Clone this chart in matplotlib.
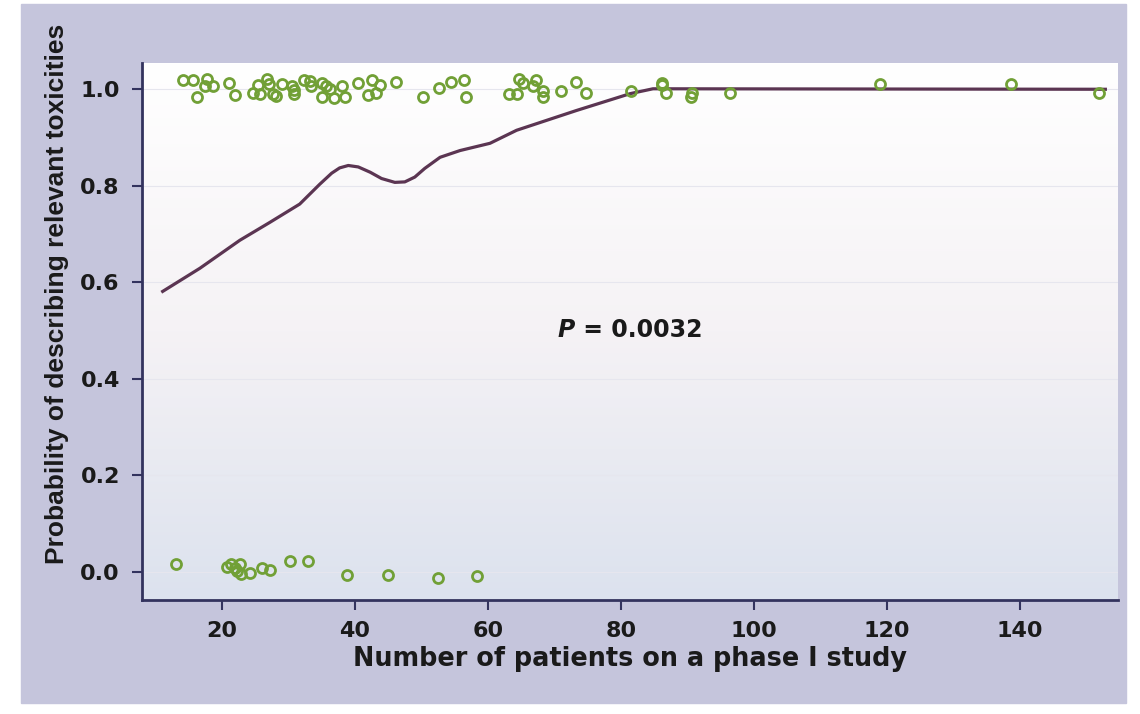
import numpy as np
import matplotlib
matplotlib.use("Agg")
import matplotlib.pyplot as plt
from matplotlib.colors import LinearSegmentedColormap
from matplotlib.patches import Rectangle

plt.rcParams['font.family'] = ['DejaVu Sans']

# studies that described relevant toxicities (jittered around 1)
yes_n = [14.2, 15.6, 16.2, 17.4, 17.8, 18.6, 21.1, 21.9, 24.7, 25.4,
         25.8, 26.8, 27.1, 27.7, 28.2, 29.1, 30.5, 30.8, 30.9, 32.3,
         33.2, 33.4, 35.0, 35.6, 36.2, 35.0, 36.8, 38.1, 38.5, 40.5,
         42.6, 43.7, 42.0, 43.2, 46.2, 50.2, 52.7, 54.5, 56.4, 56.7,
         63.2, 64.3, 64.7, 65.3, 66.8, 67.2, 68.3, 68.2, 71.0, 73.2,
         74.8, 81.5, 86.1, 86.2, 86.7, 90.6, 90.5, 96.4, 119.0, 138.6,
         151.9]
yes_p = [1.019, 1.019, 0.985, 1.007, 1.022, 1.006, 1.014, 0.989, 0.992, 1.008,
         0.990, 1.022, 1.011, 0.991, 0.986, 1.011, 1.007, 0.998, 0.990, 1.020,
         1.017, 1.006, 1.014, 1.006, 1.000, 0.984, 0.981, 1.006, 0.984, 1.013,
         1.020, 1.008, 0.988, 0.992, 1.016, 0.985, 1.002, 1.016, 1.020, 0.985,
         0.990, 0.990, 1.022, 1.012, 1.007, 1.020, 0.996, 0.984, 0.997, 1.016,
         0.993, 0.997, 1.013, 1.009, 0.992, 0.992, 0.983, 0.993, 1.010, 1.010,
         0.993]

# studies that did not (jittered around 0)
no_n = [13.1, 20.7, 21.3, 22.0, 22.7, 22.3, 22.9, 24.3, 26.1, 27.3,
        30.3, 32.9, 38.8, 44.9, 52.5, 58.3]
no_p = [0.016, 0.009, 0.016, 0.007, 0.017, 0.002, -0.005, -0.003, 0.007, 0.004,
        0.022, 0.022, -0.007, -0.007, -0.014, -0.009]

# lowess fit
fit_n = [11.1, 16.7, 22.7, 27.2, 31.7, 34.7, 36.5, 37.7, 39.0, 40.5,
         42.3, 44.0, 46.0, 47.5, 49.0, 50.5, 52.8, 55.8, 60.3, 64.3,
         73.3, 81.4, 84.8, 85.9, 152.8]
fit_p = [0.581, 0.629, 0.687, 0.724, 0.762, 0.803, 0.826, 0.837, 0.842, 0.839,
         0.828, 0.815, 0.807, 0.808, 0.818, 0.836, 0.859, 0.873, 0.888, 0.915,
         0.956, 0.991, 1.001, 1.001, 1.0]

xticks = [20, 40, 60, 80, 100, 120, 140]
yticks = [0.0, 0.2, 0.4, 0.6, 0.8, 1.0]

green = '#71a036'
navy = '#33335e'
ink = '#1a1a1a'

fig = plt.figure(figsize=(11.4, 7.14), dpi=100)
fig.patches.append(Rectangle((21 / 1140, 1 - 703 / 714), 1105 / 1140, 699 / 714,
                             transform=fig.transFigure, color='#c5c5dc', zorder=-1))

ax = fig.add_axes([0.1246, 0.1597, 0.8561, 0.7521])
xlim = (8.0, 154.7)
ylim = (-0.0586, 1.0545)
ax.set_xlim(xlim)
ax.set_ylim(ylim)

# soft vertical gradient in the plot region
cmap = LinearSegmentedColormap.from_list('bg', ['#ffffff', '#f5f2f5', '#dce2ee'])
grad = np.linspace(0, 1, 256).reshape(-1, 1)
ax.imshow(grad, extent=[xlim[0], xlim[1], ylim[0], ylim[1]], aspect='auto',
          cmap=cmap, origin='upper', zorder=0)

for t in yticks:
    ax.axhline(t, color='#e6e6ee', lw=0.8, zorder=1)

ax.plot(fit_n, fit_p, color='#5b3552', lw=2.3, zorder=3)
ax.plot(yes_n, yes_p, 'o', mfc='none', mec=green, mew=2.0, ms=7.2, zorder=4)
ax.plot(no_n, no_p, 'o', mfc='none', mec=green, mew=2.0, ms=7.2, zorder=4)

ptxt = ax.text(70.4, 0.5, 'P', fontsize=17, fontweight='bold', style='italic',
               va='center', ha='left', color=ink)
ax.annotate(' = 0.0032', xy=(1, 0.5), xycoords=ptxt, va='center', ha='left',
            fontsize=17, fontweight='bold', color=ink)

ax.set_xticks(xticks)
ax.set_yticks(yticks)
ax.set_yticklabels(['%.1f' % t for t in yticks])
ax.tick_params(axis='both', colors=navy, labelcolor=ink, labelsize=16,
               length=7, width=1.5, direction='out')
for lab in ax.get_xticklabels() + ax.get_yticklabels():
    lab.set_fontweight('bold')
ax.tick_params(axis='x', pad=8)
ax.tick_params(axis='y', pad=9)

for s in ['top', 'right']:
    ax.spines[s].set_visible(False)
for s in ['left', 'bottom']:
    ax.spines[s].set_color(navy)
    ax.spines[s].set_linewidth(2.0)

ax.set_xlabel('Number of patients on a phase I study', fontsize=18.4,
              fontweight='bold', color=ink, va='center')
ax.xaxis.set_label_coords(0.5, -0.11)
ax.set_ylabel('Probability of describing relevant toxicities', fontsize=19,
              fontweight='bold', color=ink, family='Liberation Sans',
              va='center')
ax.yaxis.set_label_coords(-0.087, 0.57)

fig.savefig('out.png', dpi=100)
